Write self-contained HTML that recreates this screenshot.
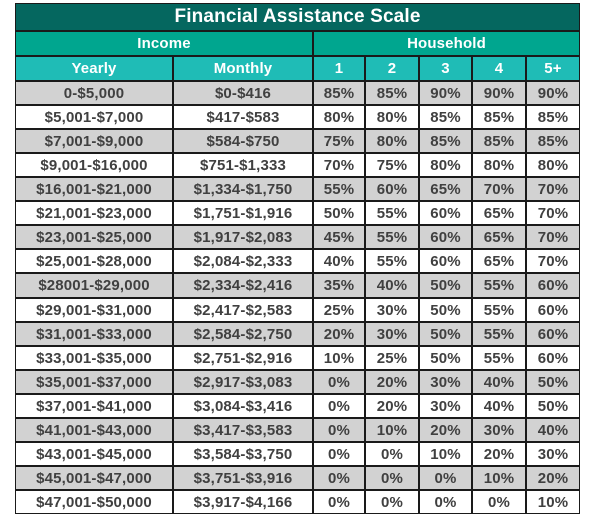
<!DOCTYPE html>
<html><head><meta charset="utf-8">
<style>
body{margin:0;width:600px;height:520px;background:#fff;font-family:"Liberation Sans","DejaVu Sans",sans-serif;position:relative;overflow:hidden}
#tbl{position:absolute;left:15px;top:3px;width:565px;height:511px;background:#1a1a1a}
.c{position:absolute;box-sizing:border-box;display:flex;align-items:center;justify-content:center;font-weight:bold;color:#404040;font-size:15px;letter-spacing:0.15px}
.h{color:#fff}
</style></head><body>
<div id="tbl"></div>
<script>
const yearly=["0-$5,000","$5,001-$7,000","$7,001-$9,000","$9,001-$16,000","$16,001-$21,000","$21,001-$23,000","$23,001-$25,000","$25,001-$28,000","$28001-$29,000","$29,001-$31,000","$31,001-$33,000","$33,001-$35,000","$35,001-$37,000","$37,001-$41,000","$41,001-$43,000","$43,001-$45,000","$45,001-$47,000","$47,001-$50,000"];
const monthly=["$0-$416","$417-$583","$584-$750","$751-$1,333","$1,334-$1,750","$1,751-$1,916","$1,917-$2,083","$2,084-$2,333","$2,334-$2,416","$2,417-$2,583","$2,584-$2,750","$2,751-$2,916","$2,917-$3,083","$3,084-$3,416","$3,417-$3,583","$3,584-$3,750","$3,751-$3,916","$3,917-$4,166"];
const hh1=[85,80,75,70,55,50,45,40,35,25,20,10,0,0,0,0,0,0];
const hh2=[85,80,80,75,60,55,55,55,40,30,30,25,20,20,10,0,0,0];
const hh3=[90,85,85,80,65,60,60,60,50,50,50,50,30,30,20,10,0,0];
const hh4=[90,85,85,80,70,65,65,65,55,55,55,55,40,40,30,20,10,0];
const hh5=[90,85,85,80,70,70,70,70,60,60,60,60,50,50,40,30,20,10];
const hhLabels=["1","2","3","4","5+"];
const T=document.getElementById('tbl');
const X0=15,Y0=3;
const cols=[15,173,313,365,419,472,526,580];
function cell(x1,x2,y1,y2,txt,bg,cls,name){
  const d=document.createElement('div');
  d.className='c '+(cls||'');
  d.style.left=(x1-X0+1)+'px';d.style.top=(y1-Y0+1)+'px';
  d.style.width=(x2-x1-2)+'px';d.style.height=(y2-y1-2)+'px';
  d.style.background=bg;d.textContent=txt;
  
  
  T.appendChild(d);return d;
}
const tt=cell(15,580,3,31,"Financial Assistance Scale","#05675f","h","table-title");
tt.style.fontSize='19px';
cell(15,313,31,56,"Income","#00a68f","h","income-header");
cell(313,580,31,56,"Household","#00a68f","h","household-header");
cell(15,173,56,81,"Yearly","#1fbcb6","h","yearly-header");
cell(173,313,56,81,"Monthly","#1fbcb6","h","monthly-header");
for(let i=0;i<5;i++){cell(cols[i+2],cols[i+3],56,81,hhLabels[i],"#1fbcb6","h","household-size-header");}
const rh=(514-81)/yearly.length;
const hh=[hh1,hh2,hh3,hh4,hh5];
for(let r=0;r<yearly.length;r++){
  const y1=Math.round(81+r*rh),y2=Math.round(81+(r+1)*rh);
  const bg=r%2==0?"#d2d2d2":"#ffffff";
  cell(cols[0],cols[1],y1,y2,yearly[r],bg,"","yearly-income-cell");
  cell(cols[1],cols[2],y1,y2,monthly[r],bg,"","monthly-income-cell");
  for(let k=0;k<5;k++){cell(cols[k+2],cols[k+3],y1,y2,hh[k][r]+"%",bg,"","assistance-percent-cell");}
}
</script>
</body></html>
